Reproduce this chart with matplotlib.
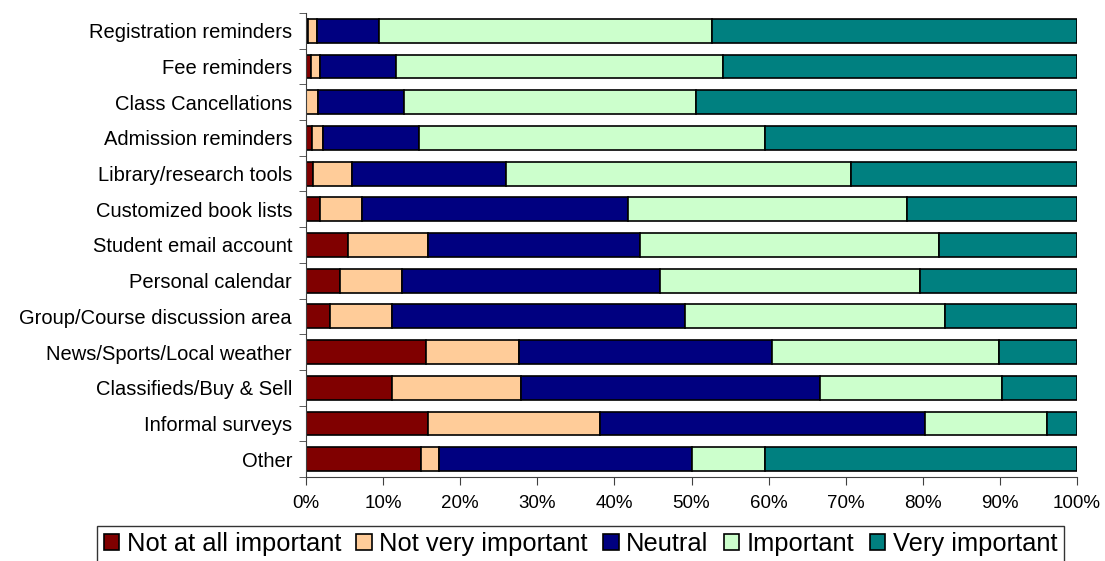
import numpy as np
import matplotlib.pyplot as plt
from matplotlib.ticker import FixedLocator, NullFormatter

plt.rcParams['font.family'] = ['Liberation Sans', 'DejaVu Sans']

categories = ['Registration reminders', 'Fee reminders', 'Class Cancellations',
              'Admission reminders', 'Library/research tools', 'Customized book lists',
              'Student email account', 'Personal calendar', 'Group/Course discussion area',
              'News/Sports/Local weather', 'Classifieds/Buy & Sell', 'Informal surveys', 'Other']

series_names = ['Not at all important', 'Not very important', 'Neutral', 'Important', 'Very important']

# percentages
not_at_all = [0.3, 0.6, 0.0, 0.8, 0.95, 1.8, 5.4, 4.4, 3.1, 15.6, 11.2, 15.8, 14.9]
not_very = [1.1, 1.2, 1.6, 1.4, 5.05, 5.5, 10.4, 8.0, 8.1, 12.0, 16.7, 22.3, 2.3]
neutral = [8.1, 9.9, 11.1, 12.4, 19.9, 34.5, 27.5, 33.5, 38.0, 32.8, 38.8, 42.2, 32.9]
important = [43.2, 42.4, 37.9, 44.9, 44.8, 36.1, 38.8, 33.7, 33.7, 29.5, 23.6, 15.8, 9.4]
very = [47.3, 45.9, 49.4, 40.5, 29.3, 22.1, 17.9, 20.4, 17.1, 10.1, 9.7, 3.9, 40.5]

colors = ['#800000', '#FFCC99', '#000080', '#CCFFCC', '#008080']

fig = plt.figure(figsize=(11.05, 5.61), dpi=100)
ax = fig.add_axes([306 / 1105, 1 - 477 / 561, 771 / 1105, 464 / 561])

y = np.arange(len(categories))
left = np.zeros(len(categories))
for name, vals, c in zip(series_names, [not_at_all, not_very, neutral, important, very], colors):
    vals = np.array(vals)
    ax.barh(y, vals, left=left, height=0.67, color=c, edgecolor='black', linewidth=1.2, label=name)
    left += vals

ax.set_xlim(0, 100)
ax.set_ylim(len(categories) - 0.5, -0.5)
ax.set_xticks(np.arange(0, 101, 10))
ax.set_xticklabels([f'{v}%' for v in range(0, 101, 10)], fontsize=13.5)
ax.set_yticks(y)
ax.set_yticklabels(categories, fontsize=14.5)
ax.tick_params(axis='y', which='major', length=0, pad=10)
ax.yaxis.set_minor_locator(FixedLocator(np.arange(-0.5, len(categories), 1)))
ax.yaxis.set_minor_formatter(NullFormatter())
ax.tick_params(axis='y', which='minor', length=5, color='#404040')
ax.tick_params(axis='x', length=6, color='#404040', pad=7)
ax.spines['top'].set_visible(False)
ax.spines['right'].set_visible(False)
ax.spines['left'].set_color('#404040')
ax.spines['bottom'].set_color('#404040')

leg = fig.legend(loc='upper center', bbox_to_anchor=(580.5 / 1105, 1 - 526 / 561), ncol=5,
                 fontsize=18.4, frameon=True, fancybox=False, edgecolor='black',
                 handlelength=0.6, handleheight=0.6, handletextpad=0.3, columnspacing=0.6,
                 borderpad=0.25, borderaxespad=0)
leg.get_frame().set_linewidth(1)

fig.savefig('out.png', dpi=100)
